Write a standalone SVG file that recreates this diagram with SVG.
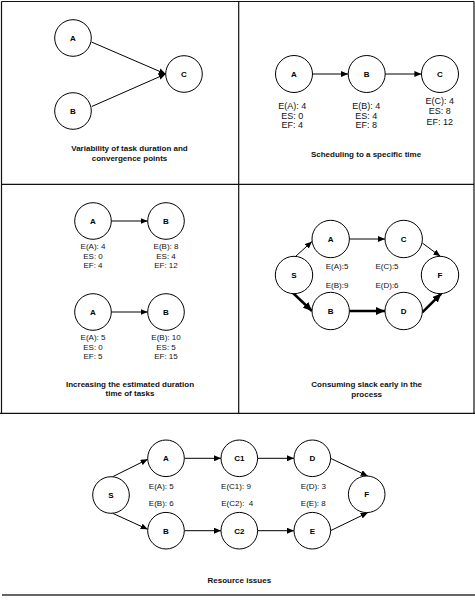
<svg xmlns="http://www.w3.org/2000/svg" width="475" height="600" viewBox="0 0 475 600">
<style>
.n{fill:#fff;stroke:#000;stroke-width:1}
.nt{font-family:"Liberation Sans",Arial,sans-serif;font-size:8px;font-weight:bold;text-anchor:middle;fill:#000}
.lb{font-family:"Liberation Sans",Arial,sans-serif;font-size:8px;text-anchor:middle;fill:#111}
.lb9{font-family:"Liberation Sans",Arial,sans-serif;font-size:9px;text-anchor:middle;fill:#111}
.cap{font-family:"Liberation Sans",Arial,sans-serif;font-size:8px;font-weight:bold;text-anchor:middle;fill:#111}
.e{fill:none;stroke:#000;stroke-width:1;marker-end:url(#ah)}
.et{fill:none;stroke:#000;stroke-width:2.5;marker-end:url(#aht)}
.fr{fill:none;stroke:#111;stroke-width:1.2}
</style>
<defs>
<marker id="ah" markerUnits="userSpaceOnUse" markerWidth="8" markerHeight="6" refX="7" refY="3" orient="auto"><path d="M0,0 L7,3 L0,6 Z" fill="#000"/></marker>
<marker id="aht" markerUnits="userSpaceOnUse" markerWidth="10" markerHeight="8" refX="9" refY="4" orient="auto"><path d="M0,0 L9,4 L0,8 Z" fill="#000"/></marker>
</defs>
<rect width="475" height="600" fill="#fff"/>
<g id="frame">
<path class="fr" d="M1.5,1.5 H474 M1.5,1.5 V413 M474,1.5 V413 M238.7,1.5 V413 M1.5,184.3 H474 M0,413.3 H475"/>
<path d="M2,595 H475" stroke="#333" stroke-width="1.6"/>
</g>
<g id="connectors">
<!-- panel 1 -->
<line class="e" x1="91.5" y1="42" x2="165.7" y2="74"/>
<line class="e" x1="91.8" y1="106.5" x2="165.7" y2="74"/>
<!-- panel 2 -->
<line class="e" x1="312.5" y1="74" x2="348" y2="74"/>
<line class="e" x1="385.2" y1="74" x2="421.4" y2="74"/>
<!-- panel 3 -->
<line class="e" x1="111.3" y1="221" x2="147.7" y2="221"/>
<line class="e" x1="111.3" y1="312" x2="147.7" y2="312"/>
<!-- panel 4 -->
<line class="e" x1="295.5" y1="256.5" x2="312" y2="241.5"/>
<line class="et" x1="293" y1="293" x2="312" y2="311"/>
<line class="e" x1="349.5" y1="239" x2="385" y2="239"/>
<line class="et" x1="349.5" y1="311" x2="385" y2="311"/>
<line class="e" x1="422.3" y1="243" x2="440.3" y2="256.3"/>
<line class="et" x1="422.3" y1="312.3" x2="441.3" y2="293.5"/>
<!-- panel 5 -->
<line class="e" x1="112.7" y1="476.7" x2="147.7" y2="459.3"/>
<line class="e" x1="112.7" y1="513.3" x2="147.7" y2="529.3"/>
<line class="e" x1="184.3" y1="458.3" x2="221" y2="458.3"/>
<line class="e" x1="257.7" y1="458.3" x2="294" y2="458.3"/>
<line class="e" x1="330.5" y1="458.3" x2="367.7" y2="476"/>
<line class="e" x1="184.3" y1="530.7" x2="221" y2="530.7"/>
<line class="e" x1="257.7" y1="530.7" x2="294" y2="530.7"/>
<line class="e" x1="330.5" y1="530.7" x2="367.7" y2="512.7"/>
</g>
<!-- panel 1 nodes -->
<g id="p1-A"><circle class="n" cx="73" cy="38" r="18.3"/><text class="nt" x="73" y="41">A</text></g>
<g id="p1-B"><circle class="n" cx="73" cy="111" r="18.3"/><text class="nt" x="73" y="114">B</text></g>
<g id="p1-C"><circle class="n" cx="184" cy="74" r="18.3"/><text class="nt" x="184" y="77">C</text></g>
<text class="cap" x="129.5" y="151">Variability of task duration and</text>
<text class="cap" x="129.5" y="161">convergence points</text>
<!-- panel 2 nodes -->
<g id="p2-A"><circle class="n" cx="294" cy="74" r="18.5"/><text class="nt" x="294" y="77">A</text>
<text class="lb9" x="292.3" y="109">E(A): 4</text><text class="lb9" x="292.3" y="118.5">ES: 0</text><text class="lb9" x="292.3" y="128">EF: 4</text></g>
<g id="p2-B"><circle class="n" cx="366.7" cy="74" r="18.5"/><text class="nt" x="366.7" y="77">B</text>
<text class="lb9" x="366.3" y="109">E(B): 4</text><text class="lb9" x="366.3" y="118.5">ES: 4</text><text class="lb9" x="366.3" y="128">EF: 8</text></g>
<g id="p2-C"><circle class="n" cx="440" cy="74" r="18.5"/><text class="nt" x="440" y="77">C</text>
<text class="lb9" x="439.7" y="104">E(C): 4</text><text class="lb9" x="439.7" y="114">ES: 8</text><text class="lb9" x="439.7" y="124.5">EF: 12</text></g>
<text class="cap" x="366" y="157">Scheduling to a specific time</text>
<!-- panel 3 nodes -->
<g id="p3-A1"><circle class="n" cx="93" cy="221" r="18.3"/><text class="nt" x="93" y="224">A</text>
<text class="lb" x="93" y="249">E(A): 4</text><text class="lb" x="93" y="258.5">ES: 0</text><text class="lb" x="93" y="268">EF: 4</text></g>
<g id="p3-B1"><circle class="n" cx="166" cy="221" r="18.3"/><text class="nt" x="166" y="224">B</text>
<text class="lb" x="166" y="249">E(B): 8</text><text class="lb" x="166" y="258.5">ES: 4</text><text class="lb" x="166" y="268">EF: 12</text></g>
<g id="p3-A2"><circle class="n" cx="93" cy="312" r="18.3"/><text class="nt" x="93" y="315">A</text>
<text class="lb" x="93" y="340">E(A): 5</text><text class="lb" x="93" y="349.5">ES: 0</text><text class="lb" x="93" y="359">EF: 5</text></g>
<g id="p3-B2"><circle class="n" cx="166" cy="312" r="18.3"/><text class="nt" x="166" y="315">B</text>
<text class="lb" x="166" y="340">E(B): 10</text><text class="lb" x="166" y="349.5">ES: 5</text><text class="lb" x="166" y="359">EF: 15</text></g>
<text class="cap" x="130" y="387">Increasing the estimated duration</text>
<text class="cap" x="130" y="396">time of tasks</text>
<!-- panel 4 nodes -->
<g id="p4-S"><circle class="n" cx="294" cy="275" r="18.7"/><text class="nt" x="294" y="278">S</text></g>
<g id="p4-A"><circle class="n" cx="330.7" cy="239" r="18.7"/><text class="nt" x="330.7" y="242">A</text></g>
<g id="p4-C"><circle class="n" cx="403.7" cy="239" r="18.7"/><text class="nt" x="403.7" y="242">C</text></g>
<g id="p4-B"><circle class="n" cx="330.7" cy="311" r="18.7"/><text class="nt" x="330.7" y="314">B</text></g>
<g id="p4-D"><circle class="n" cx="403.7" cy="311" r="18.7"/><text class="nt" x="403.7" y="314">D</text></g>
<g id="p4-F"><circle class="n" cx="440" cy="275" r="18.7"/><text class="nt" x="440" y="278">F</text></g>
<text class="lb" x="337" y="269">E(A):5</text>
<text class="lb" x="387" y="269">E(C):5</text>
<text class="lb" x="337" y="287.7">E(B):9</text>
<text class="lb" x="387" y="287.7">E(D):6</text>
<text class="cap" x="366.7" y="387">Consuming slack early in the</text>
<text class="cap" x="366.7" y="397">process</text>
<!-- panel 5 nodes -->
<g id="p5-S"><circle class="n" cx="111" cy="495" r="18.3"/><text class="nt" x="111" y="498">S</text></g>
<g id="p5-A"><circle class="n" cx="166" cy="458.3" r="18.3"/><text class="nt" x="166" y="461.3">A</text></g>
<g id="p5-C1"><circle class="n" cx="239.3" cy="458.3" r="18.3"/><text class="nt" x="239.3" y="461.3">C1</text></g>
<g id="p5-D"><circle class="n" cx="312.3" cy="458.3" r="18.3"/><text class="nt" x="312.3" y="461.3">D</text></g>
<g id="p5-B"><circle class="n" cx="166" cy="530.7" r="18.3"/><text class="nt" x="166" y="533.7">B</text></g>
<g id="p5-C2"><circle class="n" cx="239.3" cy="530.7" r="18.3"/><text class="nt" x="239.3" y="533.7">C2</text></g>
<g id="p5-E"><circle class="n" cx="312.3" cy="530.7" r="18.3"/><text class="nt" x="312.3" y="533.7">E</text></g>
<g id="p5-F"><circle class="n" cx="366.7" cy="494.3" r="18.3"/><text class="nt" x="366.7" y="497.3">F</text></g>
<text class="lb" x="161.3" y="488.7">E(A): 5</text>
<text class="lb" x="161.3" y="506.3">E(B): 6</text>
<text class="lb" x="236" y="488.7">E(C1): 9</text>
<text class="lb" x="237.3" y="506.3" style="white-space:pre">E(C2):  4</text>
<text class="lb" x="313.3" y="488.7">E(D): 3</text>
<text class="lb" x="313.3" y="506.3">E(E): 8</text>
<text class="cap" x="239.3" y="583">Resource issues</text>
</svg>
